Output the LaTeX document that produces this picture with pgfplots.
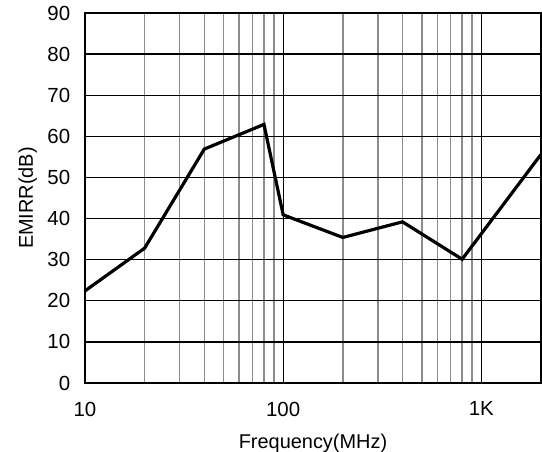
\documentclass[border=0pt]{standalone}
\usepackage{pgfplots}
\pgfplotsset{compat=1.18}
\usepackage{fontspec}
\setmainfont{Liberation Sans}
\begin{document}
\fontsize{20}{24}\selectfont
\begin{tikzpicture}
\begin{axis}[
  name=ax,
  scale only axis,
  width=456bp, height=370bp,
  xmode=log,
  xmin=10, xmax=2000,
  ymin=0, ymax=90,
  ytick={0,10,...,90},
  xtick={10,100,1000},
  xticklabels={10,100,1K},
  minor xtick={20,30,40,50,60,70,80,90,200,300,400,500,600,700,800,900},
  log basis x=10,
  every major grid/.style={black, line width=1.3bp},
  every minor grid/.style={gray!90, line width=1.6bp},
  ymajorgrids=true, yminorgrids=false,
  xmajorgrids=true, xminorgrids=true,
  major tick length=0pt, minor tick length=0pt,
  axis line style={black, line width=2.8bp},
  tick label style={font=\fontsize{20.5}{24}\selectfont},
  label style={font=\fontsize{20}{24}\selectfont},
  /pgf/number format/assume math mode=true,
  xticklabel style={yshift=-12bp},
  yticklabel style={xshift=-8bp},
  xlabel={Frequency(MHz)},
  ylabel={EMIRR(dB)},
  xlabel style={yshift=-4bp},
  ylabel style={yshift=-3bp},
]
\addplot[black, line width=3.2bp, line join=miter] coordinates {
  (10,22.4) (20,32.8) (40,56.9) (80,62.9) (100,40.9) (200,35.4) (400,39.2) (800,30.1) (2000,55.6)
};
\end{axis}
\pgfresetboundingbox
\path ([shift={(-85bp,-69bp)}]ax.south west) rectangle ([shift={(1bp,13bp)}]ax.north east);
\end{tikzpicture}
\end{document}
